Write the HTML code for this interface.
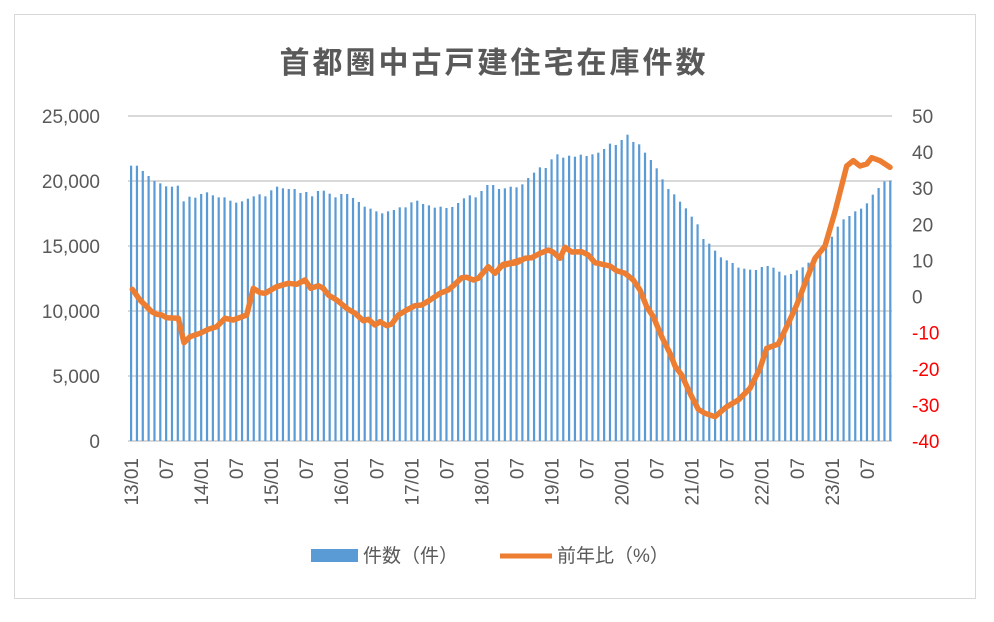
<!DOCTYPE html>
<html><head><meta charset="utf-8"><style>
html,body{margin:0;padding:0;background:#fff}
svg{display:block;font-family:"Liberation Sans","Noto Sans CJK JP",sans-serif}
</style></head><body>
<svg id="s" width="994" height="622" viewBox="0 0 994 622" xmlns="http://www.w3.org/2000/svg">
<rect x="14.5" y="14.5" width="961" height="584" fill="#fff" stroke="#d9d9d9"/>
<text x="494" y="73" text-anchor="middle" font-size="30" letter-spacing="3" font-weight="bold" fill="#595959" font-family="'Noto Sans CJK JP',sans-serif">首都圏中古戸建住宅在庫件数</text>
<g id="grid" stroke="#d9d9d9" stroke-width="2"></g>
<g id="bars" fill="#5b9bd5"></g>
<g id="lbl" font-size="19" fill="#595959"></g>
<polyline id="ln" fill="none" stroke="#ed7d31" stroke-width="5.5" stroke-linejoin="round" stroke-linecap="round"/>
<rect x="311" y="549" width="47" height="13" fill="#5b9bd5"/>
<text x="363" y="562" font-size="19" fill="#595959">件数（件）</text>
<line x1="500" y1="556" x2="552" y2="556" stroke="#ed7d31" stroke-width="5"/>
<text x="557" y="562" font-size="19" fill="#595959">前年比（%）</text>
</svg>
<script>
var NS="http://www.w3.org/2000/svg";
function el(t,a,p,tx){var e=document.createElementNS(NS,t);for(var k in a)e.setAttribute(k,a[k]);if(tx!==undefined)e.textContent=tx;document.getElementById(p).appendChild(e);return e;}
var g0=441,step=65;
for(var i=0;i<=5;i++){var y=g0-i*step;el('line',{x1:128,x2:892,y1:y,y2:y},'grid');
el('text',{x:100,y:y+7,'text-anchor':'end'},'lbl',(i*5000).toLocaleString('en-US'));}
var rv=[50,40,30,20,10,0,-10,-20,-30,-40];
for(var i=0;i<10;i++){var y=116+i*(325/9);el('text',{x:912,y:y+7,fill:rv[i]<0?'#ff0000':'#595959'},'lbl',rv[i]);}
var z1=[137,137,153,168,183,190,199,200,197,244,230,233,222,217,226,232,232,242,248,244,236,229,223,229,211,200,205,207,207,219,216,229,213,212,221,232,222,222,234,246,260,266,274,280,274,270,262,262,247,242,252,256,263,260,264,261,249,235,226,232,213,195,195,207];
var z2=[205,200,202,193,174,158,142,144,118,103,113,107,110,104,108,103,98,87,71,75,60,44,66,73,98,120,145,178,207,223,245,265,290,313,357,371,392,412,421,429,443,446,449,450,441,438,443,455,466,462,451,442,428,412,394,378,350,320,298,288,274,266,250,224,204,184,182];
var Y=z1.concat(z2);
for(var i=0;i<Y.length;i++){var x=131+i*5.84;var t=120+Y[i]/3;el('rect',{x:x-1,y:t,width:2.2,height:441-t},'bars');
if(i%6==0){var yr=13+i/12;var s=(i%12==0)?(yr+'/01'):'07';el('text',{transform:'translate('+(x+7)+',458) rotate(-90)','text-anchor':'end','font-size':'19'},'lbl',s);}}
var p1=[[37,508],[60,540],[75,555],[95,575],[110,583],[125,585],[140,593],[175,595],[192,668],[210,650],[240,640],[265,628],[290,620],[315,595],[340,600],[380,585],[400,505],[420,518],[435,520],[470,500],[505,490],[530,493],[555,480],[572,505],[595,497],[610,505],[625,525],[650,540],[680,565],[705,580],[730,602],[745,598],[765,615],[780,605],[800,617],[815,612],[835,585],[860,570],[885,557],[905,555],[930,540],[960,520],[985,510],[1000,497],[1025,473],[1040,472],[1060,480],[1075,475],[1105,440],[1125,460],[1150,433],[1175,428],[1200,420]];
var p2=[[0,440],[25,432],[50,428],[75,415],[95,413],[120,400],[145,390],[160,397],[180,415],[195,382],[215,396],[245,395],[265,405],[285,428],[330,438],[350,452],[375,460],[400,480],[420,510],[440,560],[460,590],[485,650],[510,700],[525,738],[545,765],[570,820],[595,868],[615,880],[645,890],[680,860],[715,840],[750,805],[780,745],[800,685],[835,672],[860,620],[890,555],[915,490],[945,415],[975,378],[1005,275],[1040,138],[1060,122],[1080,138],[1100,132],[1115,113],[1140,122],[1170,142]];
var pts=[];p1.forEach(function(p){pts.push((120+p[0]/3).toFixed(1)+','+(120+p[1]/3).toFixed(1));});
p2.forEach(function(p){pts.push((500+p[0]/3).toFixed(1)+','+(120+p[1]/3).toFixed(1));});
document.getElementById('ln').setAttribute('points',pts.join(' '));
</script>
</body></html>
